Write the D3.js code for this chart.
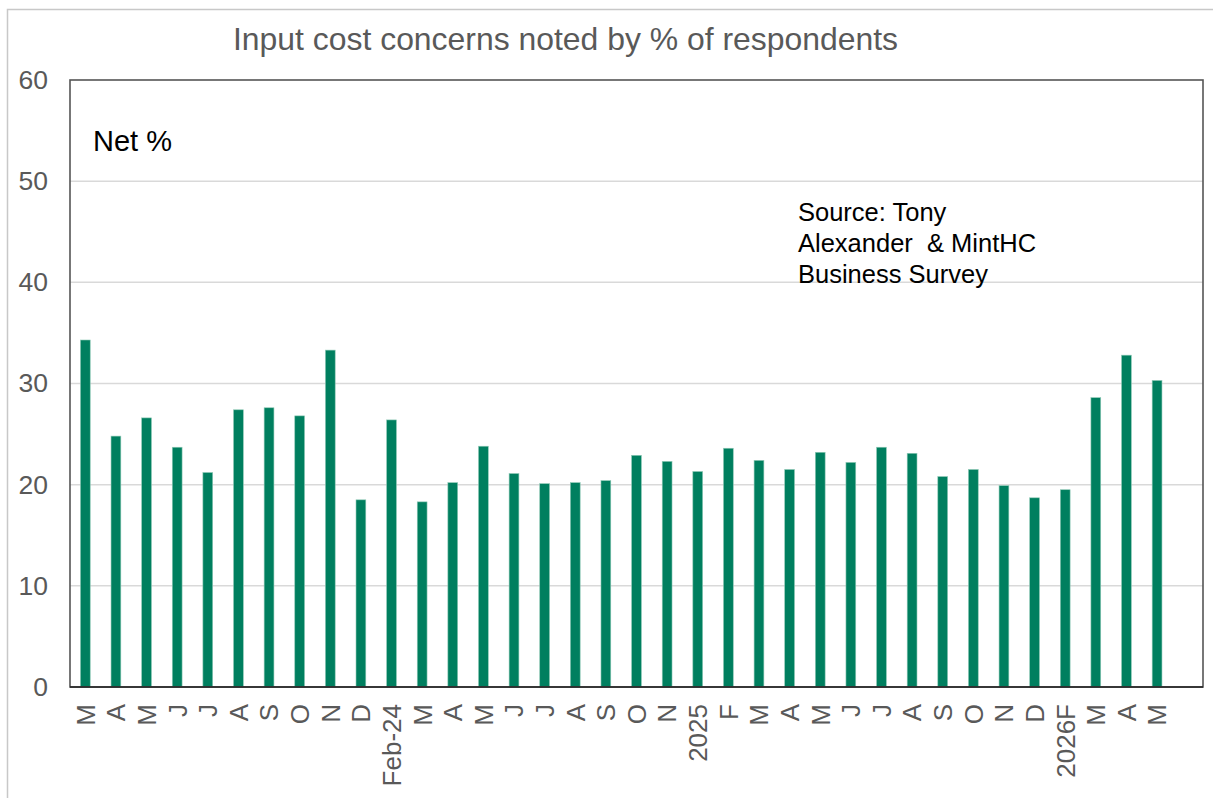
<!DOCTYPE html>
<html>
<head>
<meta charset="utf-8">
<script src="https://cdn.jsdelivr.net/npm/d3@7"></script>
<style>
  html, body { margin: 0; padding: 0; background: #fff; }
  svg { display: block; font-family: "Liberation Sans", Arial, sans-serif; }
</style>
</head>
<body>
<svg id="chart" width="1213" height="798"></svg>
<script>
// Survey months (January rounds are skipped in the series)
const months = ["M","A","M","J","J","A","S","O","N","D","Feb-24","M","A","M","J","J","A","S","O","N",
                "2025","F","M","A","M","J","J","A","S","O","N","D","2026F","M","A","M"];
// Net % of respondents noting input cost concerns
const netPct = [34.3, 24.8, 26.6, 23.7, 21.2, 27.4, 27.6, 26.8, 33.3, 18.5, 26.4, 18.3, 20.2, 23.8,
                21.1, 20.1, 20.2, 20.4, 22.9, 22.3, 21.3, 23.6, 22.4, 21.5, 23.2, 22.2, 23.7, 23.1,
                20.8, 21.5, 19.9, 18.7, 19.5, 28.6, 32.8, 30.3];
const yTicks = [0, 10, 20, 30, 40, 50, 60];
const titleText = "Input cost concerns noted by % of respondents";
const unitText = "Net %";
const sourceLines = ["Source: Tony", "Alexander  & MintHC", "Business Survey"];

const svg = d3.select("#chart");
const W = 1213, H = 798;
const plot = { left: 70, right: 1203, top: 80, bottom: 687 };

// outer frame of the figure
svg.append("rect")
  .attr("x", 7.5).attr("y", 9.5)
  .attr("width", W + 10).attr("height", H + 10)
  .attr("fill", "#fff").attr("stroke", "#c8c8c8").attr("stroke-width", 1.5);

// one spare slot is left empty after the last month
const slots = months.length + 1;
const x = d3.scaleBand()
  .domain(d3.range(months.length))
  .range([plot.left, plot.left + (plot.right - plot.left) * months.length / slots])
  .paddingInner(0.68)
  .paddingOuter(0.34);

const y = d3.scaleLinear().domain([0, 60]).range([plot.bottom, plot.top]);

// horizontal gridlines
svg.append("g")
  .selectAll("line")
  .data(yTicks.filter(t => t > 0 && t < 60))
  .join("line")
  .attr("x1", plot.left).attr("x2", plot.right)
  .attr("y1", d => y(d)).attr("y2", d => y(d))
  .attr("stroke", "#d9d9d9").attr("stroke-width", 1.5);

// y axis labels
const yAxis = d3.axisLeft(y).tickValues(yTicks).tickSize(0).tickPadding(22).tickFormat(d3.format("d"));
svg.append("g")
  .attr("transform", `translate(${plot.left},0)`)
  .call(yAxis)
  .call(g => g.select(".domain").remove())
  .call(g => g.selectAll("text")
    .attr("fill", "#595959")
    .attr("font-size", 26.5)
    .attr("font-family", "Liberation Sans, Arial, sans-serif"));

// bars
svg.append("g")
  .selectAll("rect")
  .data(netPct)
  .join("rect")
  .attr("x", (d, i) => x(i))
  .attr("width", x.bandwidth())
  .attr("y", d => y(d))
  .attr("height", d => y(0) - y(d))
  .attr("fill", "#007f5f")
  .attr("stroke", "#8fc9b6")
  .attr("stroke-width", 0.6);

// plot frame
svg.append("rect")
  .attr("x", plot.left).attr("y", plot.top)
  .attr("width", plot.right - plot.left).attr("height", plot.bottom - plot.top)
  .attr("fill", "none").attr("stroke", "#555").attr("stroke-width", 1.6);
svg.append("line")
  .attr("x1", plot.left).attr("x2", plot.right)
  .attr("y1", y(0)).attr("y2", y(0))
  .attr("stroke", "#222").attr("stroke-width", 1.6);

// x axis month labels, rotated
const xAxis = d3.axisBottom(x).tickSize(0).tickPadding(0).tickFormat(i => months[i]);
svg.append("g")
  .attr("transform", `translate(0,${plot.bottom})`)
  .call(xAxis)
  .call(g => g.select(".domain").remove())
  .call(g => g.selectAll("text")
    .attr("fill", "#595959")
    .attr("font-size", 26)
    .attr("font-family", "Liberation Sans, Arial, sans-serif")
    .attr("text-anchor", "end")
    .attr("transform", "rotate(-90)")
    .attr("x", -17)
    .attr("y", 0)
    .attr("dy", "0.36em"));

// title
svg.append("text")
  .attr("x", 233).attr("y", 50)
  .attr("fill", "#595959")
  .attr("font-size", 32)
  .attr("textLength", 665)
  .attr("lengthAdjust", "spacingAndGlyphs")
  .text(titleText);

// unit label
svg.append("text")
  .attr("x", 93).attr("y", 151)
  .attr("fill", "#000")
  .attr("font-size", 29)
  .text(unitText);

// source note
svg.append("text")
  .attr("fill", "#000")
  .attr("font-size", 25.5)
  .style("white-space", "pre")
  .selectAll("tspan")
  .data(sourceLines)
  .join("tspan")
  .attr("x", 798)
  .attr("y", (d, i) => 221 + i * 30.8)
  .text(d => d);
</script>
</body>
</html>
